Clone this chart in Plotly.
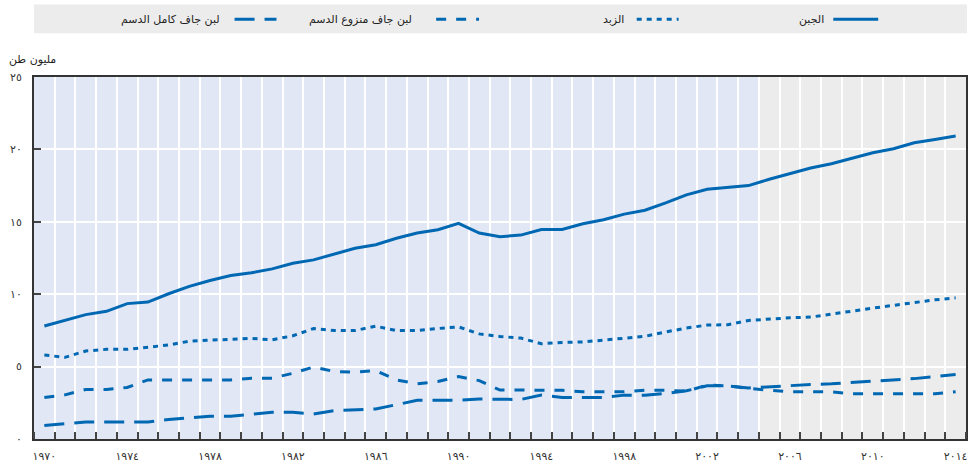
import plotly.graph_objects as go

years = list(range(1970, 2015))

cheese = [7.8, 8.2, 8.59, 8.82, 9.35, 9.46, 10.03, 10.54, 10.95, 11.29, 11.48, 11.75, 12.14, 12.37,
          12.78, 13.17, 13.42, 13.86, 14.22, 14.45, 14.89, 14.22, 13.97, 14.08, 14.47, 14.47, 14.86,
          15.14, 15.53, 15.8, 16.31, 16.86, 17.25, 17.36, 17.5, 17.94, 18.35, 18.72, 19.01, 19.4,
          19.77, 20.05, 20.46, 20.69, 20.92]
butter = [5.8, 5.64, 6.08, 6.19, 6.19, 6.33, 6.49, 6.76, 6.83, 6.85, 6.95, 6.85, 7.13, 7.63, 7.49,
          7.49, 7.79, 7.49, 7.49, 7.63, 7.74, 7.26, 7.08, 6.97, 6.58, 6.67, 6.70, 6.83, 6.97, 7.09,
          7.39, 7.66, 7.87, 7.89, 8.19, 8.30, 8.37, 8.42, 8.6, 8.83, 9.04, 9.24, 9.4, 9.61, 9.75]
smp = [2.87, 3.05, 3.42, 3.42, 3.56, 4.08, 4.08, 4.08, 4.08, 4.08, 4.2, 4.2, 4.54, 4.97, 4.66, 4.61,
       4.72, 4.08, 3.81, 3.97, 4.31, 4.03, 3.38, 3.37, 3.37, 3.37, 3.26, 3.26, 3.26, 3.37, 3.37, 3.3,
       3.72, 3.67, 3.49, 3.37, 3.26, 3.26, 3.26, 3.12, 3.12, 3.12, 3.12, 3.12, 3.26]
wmp = [0.93, 1.04, 1.18, 1.18, 1.18, 1.18, 1.34, 1.45, 1.57, 1.57, 1.73, 1.84, 1.84, 1.73, 1.96, 2.0,
       2.07, 2.37, 2.67, 2.67, 2.67, 2.76, 2.75, 2.73, 3.03, 2.87, 2.87, 2.87, 3.03, 3.03, 3.14, 3.33,
       3.67, 3.67, 3.53, 3.62, 3.67, 3.76, 3.81, 3.9, 3.94, 4.06, 4.17, 4.31, 4.45]

names = ["الجبن", "الزبد", "لبن جاف منزوع الدسم", "لبن جاف كامل الدسم"]
x_tickvals = [1970, 1974, 1978, 1982, 1986, 1990, 1994, 1998, 2002, 2006, 2010, 2014]
x_ticktext = ["١٩٧٠", "١٩٧٤", "١٩٧٨", "١٩٨٢", "١٩٨٦", "١٩٩٠", "١٩٩٤", "١٩٩٨", "٢٠٠٢", "٢٠٠٦", "٢٠١٠", "٢٠١٤"]
y_tickvals = [0, 5, 10, 15, 20, 25]
y_ticktext = ["٠", "٥", "١٠", "١٥", "٢٠", "٢٥"]
y_title = "مليون طن"
projection_start = 2004.5

COLOR = "#0068b3"
FONT = "DejaVu Sans"
dashes = ["solid", "5px,5px", "10px,10px", "20px,10px"]
series = [cheese, butter, smp, wmp]

W, H = 971, 466
L, R, T, B = 34, 968, 77, 441

fig = go.Figure()
for name, vals, d in zip(names, series, dashes):
    fig.add_trace(go.Scatter(x=years, y=vals, mode="lines", name=name,
                             line=dict(color=COLOR, width=3, dash=d), showlegend=False))

def px(xp):
    return (xp - L) / (R - L)

def py(yp):
    return (B - yp) / (B - T)

shapes = [
    dict(type="rect", xref="x", yref="paper", x0=projection_start, x1=2014.5, y0=0, y1=1,
         fillcolor="#ececec", line=dict(width=0), layer="below"),
    dict(type="rect", xref="paper", yref="paper", x0=px(34), x1=px(969), y0=py(33), y1=py(4),
         fillcolor="#ececec", line=dict(width=0), layer="below"),
]
annotations = []
legend_items = [(835, 880, 828), (638, 680, 627), (437, 480, 415), (235, 277, 222)]
for (x0, x1, tx), name, d in zip(legend_items, names, dashes):
    shapes.append(dict(type="line", xref="paper", yref="paper", x0=px(x0), x1=px(x1),
                       y0=py(19), y1=py(19), line=dict(color=COLOR, width=3, dash=d)))
    annotations.append(dict(xref="paper", yref="paper", x=px(tx), y=py(19), text=name,
                            showarrow=False, xanchor="right", yanchor="middle",
                            font=dict(family=FONT, size=11, color="#222")))
annotations.append(dict(xref="paper", yref="paper", x=px(58), y=py(59), text=y_title,
                        showarrow=False, xanchor="right", yanchor="middle",
                        font=dict(family=FONT, size=11, color="#222")))

fig.update_layout(
    width=W, height=H,
    margin=dict(l=L, r=W - R, t=T, b=H - B, pad=0),
    paper_bgcolor="white", plot_bgcolor="#e1e7f4",
    shapes=shapes, annotations=annotations,
    font=dict(family=FONT, size=11, color="#333"),
)
fig.update_xaxes(
    range=[1969.5, 2014.5], tickmode="array", tickvals=x_tickvals, ticktext=x_ticktext,
    ticks="", showgrid=False, zeroline=False,
    showline=True, linecolor="#333", linewidth=2, mirror=True,
    ticklabelstandoff=6,
    minor=dict(tick0=1969.5, dtick=1, ticks="inside", ticklen=7, tickcolor="#444", tickwidth=1.5,
               showgrid=True, gridcolor="white", gridwidth=1.5),
)
fig.update_yaxes(
    range=[0, 25], tickmode="array", tickvals=y_tickvals, ticktext=y_ticktext,
    ticks="inside", ticklen=7, tickcolor="#444", tickwidth=1.5,
    showgrid=True, gridcolor="white", gridwidth=1.5, zeroline=False,
    showline=True, linecolor="#333", linewidth=2, mirror=True,
    ticklabelstandoff=8,
)

fig.write_html("out.html", config={"displayModeBar": False},
               post_script="document.body.style.margin='0';document.body.style.overflow='hidden';")
